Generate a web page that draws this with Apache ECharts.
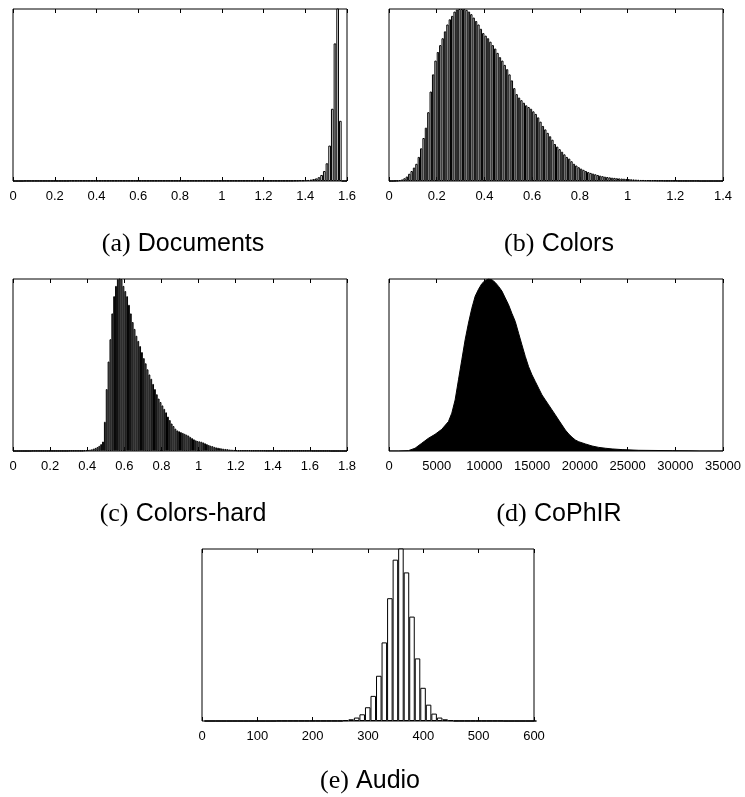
<!DOCTYPE html>
<html><head><meta charset="utf-8">
<script src="https://cdn.jsdelivr.net/npm/echarts@6/dist/echarts.min.js"></script>
<style>html,body{margin:0;padding:0;background:#fff}#c{width:745px;height:797px}</style>
</head><body><div id="c"></div>
<script>
// ---- data (normalised bin heights; 1 = top of plot box) ----
// (a) Documents: bins of width 0.0128 starting at 0
const docStart = 0, docBin = 0.0128;
const docValues = [0,0,0,0,
 0.001,0.001,0.001,0.001,0.001,0.001,0.001,0.001,0.001,0.001,0.001,0.001,0.001,0.001,0.001,0.001,0.001,
 0.002,0.002,0.002,0.002,0.002,0.002,0.002,0.002,0.002,0.002,0.002,0.002,0.002,0.002,0.002,0.002,0.002,0.002,0.002,0.002,
 0.002,0.002,0.002,0.002,0.002,0.002,0.002,0.002,0.002,0.002,0.002,0.002,0.002,0.002,0.002,0.002,0.002,0.002,0.002,0.002,
 0.002,0.002,0.002,0.002,0.002,0.002,0.002,0.002,0.002,0.002,0.002,0.002,0.002,0.002,0.002,0.002,0.002,0.002,0.002,0.002,
 0.002,0.002,0.002,0.002,0.002,0.002,0.002,0.002,0.002,0.002,
 0.002,0.002,0.002,0.002,0.002,0.002,0.002,0.002,0.002,0.002,0.002,0.002,0.002,0.002,
 0.003,0.003,0.004,0.004,0.005,0.006,0.008,0.011,0.015,0.022,0.035,0.058,0.103,0.206,0.42,0.80,1.3,0.35,0,0];
// (b) Colors: bins of width 0.01
const colStart = 0, colBin = 0.01;
const colValues = [0,0,0.001,0.002,0.005,0.009,0.016,0.026,0.042,0.058,
 0.078,0.10,0.14,0.19,0.25,0.31,0.40,0.52,0.62,0.70,
 0.75,0.79,0.83,0.87,0.91,0.94,0.96,0.985,0.997,1.0,
 1.0,1.0,0.995,0.985,0.97,0.95,0.93,0.91,0.885,0.86,
 0.845,0.83,0.81,0.79,0.77,0.745,0.72,0.70,0.675,0.65,
 0.62,0.585,0.54,0.505,0.485,0.47,0.455,0.44,0.43,0.42,
 0.405,0.39,0.37,0.345,0.32,0.30,0.28,0.26,0.24,0.215,
 0.20,0.185,0.17,0.155,0.14,0.13,0.115,0.10,0.09,0.08,
 0.072,0.065,0.058,0.052,0.047,0.043,0.039,0.035,0.031,0.028,
 0.025,0.023,0.021,0.019,0.018,0.016,0.015,0.014,0.013,0.012,
 0.011,0.010,0.009,0.008,0.007,0.006,0.006,0.005,0.005,0.004,
 0.004,0.004,0.003,0.003,0.003,0.002,0.002,0.002,0.002,0.002,
 0.002,0.001,0.001,0.001,0.001,0.001,0.001,0.001,0.001,0.001,
 0,0,0,0,0,0,0,0,0,0];
// (c) Colors-hard: bins of width 0.01
const hardStart = 0, hardBin = 0.01;
const hardValues = [0,0,0,0,0,0,0,0,0,0,
 0.001,0.001,0.001,0.001,0.001,0.001,0.001,0.001,0.001,0.001,
 0.001,0.001,0.001,0.001,0.001,0.001,0.001,0.001,0.001,0.001,
 0.002,0.002,0.002,0.002,0.002,0.002,0.002,0.002,
 0.004,0.005,0.006,0.008,0.010,0.014,0.018,0.023,0.03,0.04,
 0.055,0.17,0.36,0.52,0.65,0.80,0.90,0.96,1.0,1.02,
 1.0,0.96,0.93,0.90,0.85,0.80,0.75,0.71,0.67,0.64,
 0.61,0.575,0.54,0.51,0.475,0.445,0.42,0.39,0.36,0.33,
 0.305,0.285,0.265,0.245,0.225,0.20,0.18,0.16,0.145,0.13,
 0.12,0.115,0.11,0.105,0.10,0.095,0.09,0.082,0.075,0.068,
 0.062,0.058,0.056,0.054,0.05,0.045,0.04,0.035,0.031,0.028,
 0.024,0.021,0.019,0.017,0.015,0.013,0.012,0.011,0.009,0.008,
 0.007,0.006,0.005,0.004,0.004,0.004,0.004,0.004,0.004,0.004,
 0.003,0.003,0.003,0.003,0.003,0.003,0.003,0.003,0.002,0.002,
 0.002,0.002,0.002,0.002,0.002,0.002,0.002,0.002,0.002,0.002,
 0.002,0.002,0.002,0.002,0.002,0.002,0.002,0.002,0.002,0.002,
 0.002,0.002,0.002,0.001,0.001,0.001,0.001,0.001,0.001,0.001,
 0.001,0.001,0.001,0,0,0,0,0,0,0,
 0,0];
// (d) CoPhIR: dense histogram outline (distance, height)
const cophirX = [0,980,2030,2730,3430,4130,4830,5530,6230,6580,6930,7280,7630,7980,8330,8680,9030,9380,9730,10080,10430,10780,11130,11480,11830,12180,12530,12880,13230,13580,13930,14280,14630,14980,15330,15680,16030,16380,16730,17080,17430,17780,18130,18480,18830,19180,19530,19880,20580,21280,21980,22680,23380,24430,26180,29680,31430,32500,35000];
const cophirY = [0,0,0.002,0.016,0.045,0.074,0.097,0.126,0.171,0.22,0.297,0.414,0.53,0.647,0.744,0.83,0.90,0.94,0.973,0.992,1.0,0.996,0.98,0.957,0.93,0.89,0.85,0.80,0.753,0.685,0.617,0.55,0.49,0.443,0.404,0.365,0.326,0.297,0.268,0.239,0.21,0.18,0.151,0.122,0.099,0.08,0.064,0.054,0.041,0.029,0.021,0.016,0.012,0.008,0.004,0.002,0.001,0,0];
// (e) Audio: bins of width 10 starting at 4.5
const audStart = 4.5, audBin = 10;
const audValues = [0,0,0,0,0,0,0,0,0,0,
 0,0,0,0.001,0.001,0.001,0.001,0.001,0.001,0.001,
 0.001,0.001,0.001,0.001,0.001,0.005,0.01,0.02,0.039,0.08,
 0.146,0.263,0.457,0.714,0.938,1.05,0.864,0.607,0.364,0.193,
 0.095,0.043,0.02,0.01,0.005,0.001,0.001,0.001,0.001,0.001,
 0.001,0.001,0.001,0.001,0,0,0,0,0,0];
// axes
const axisMax = [1.6, 1.4, 1.8, 35000, 600];
const axisStep = [0.2, 0.2, 0.2, 5000, 100];
const captionTag = ['(a)', '(b)', '(c)', '(d)', '(e)'];
const captionName = ['Documents', 'Colors', 'Colors-hard', 'CoPhIR', 'Audio'];

// ---- layout ----
const grids = [
  {left: 13, top: 9, width: 334, height: 172},
  {left: 389, top: 9, width: 334, height: 172},
  {left: 13, top: 279, width: 334, height: 172},
  {left: 389, top: 279, width: 334, height: 172},
  {left: 202, top: 549, width: 332, height: 172}
];
const captionPos = [[183, 244], [559, 244], [183, 514], [559, 514], [370, 781]];

function bins(start, w, vals) { return vals.map((v, i) => [start + (i + 0.5) * w, v]); }

const xAxes = [], yAxes = [];
grids.forEach((g, i) => {
  const base = {type: 'value', gridIndex: i, min: 0, max: axisMax[i], interval: axisStep[i],
    splitLine: {show: false}, axisLine: {show: false},
    axisTick: {show: true, inside: true, length: 4, lineStyle: {color: '#000', width: 1}}};
  xAxes.push(Object.assign({}, base, {position: 'bottom',
    axisLabel: {show: true, color: '#000', fontFamily: 'Liberation Sans, Arial, sans-serif', fontSize: 13, margin: 9,
      showMinLabel: true, showMaxLabel: true,
      formatter: function (v) { return String(Math.round(v * 1000) / 1000); }}}));
  xAxes.push(Object.assign({}, base, {position: 'top', axisLabel: {show: false}}));
  yAxes.push({type: 'value', gridIndex: i, min: 0, max: 1, show: false});
});

const barStyle = {color: '#fff', borderColor: '#000', borderWidth: 1};
function barSeries(gi, data) {
  return {type: 'bar', xAxisIndex: gi * 2, yAxisIndex: gi, data: data, barWidth: '100%',
    itemStyle: barStyle, clip: true, silent: true, animation: false};
}
const series = [
  barSeries(0, bins(docStart, docBin, docValues)),
  barSeries(1, bins(colStart, colBin, colValues)),
  barSeries(2, bins(hardStart, hardBin, hardValues)),
  {type: 'line', xAxisIndex: 6, yAxisIndex: 3, data: cophirX.map((x, i) => [x, cophirY[i]]),
   showSymbol: false, symbol: 'none', smooth: false, lineStyle: {color: '#000', width: 1},
   areaStyle: {color: '#000', opacity: 1}, animation: false, silent: true, clip: true},
  barSeries(4, bins(audStart, audBin, audValues))
];

const graphics = captionPos.map((p, i) => ({
  type: 'text', x: p[0], y: p[1],
  style: {text: '{t|' + captionTag[i] + '}{s| }{n|' + captionName[i] + '}', align: 'center', verticalAlign: 'middle',
    rich: {t: {fontFamily: 'Liberation Serif, DejaVu Serif, serif', fontSize: 26, fill: '#000'},
           s: {fontFamily: 'Liberation Sans, Arial, sans-serif', fontSize: 26, fill: '#000'},
           n: {fontFamily: 'Liberation Sans, Arial, sans-serif', fontSize: 25, fill: '#000'}}}
}));

const chart = echarts.init(document.getElementById('c'), null, {renderer: 'canvas'});
chart.setOption({
  animation: false,
  backgroundColor: '#fff',
  grid: grids.map(g => Object.assign({show: true, borderColor: '#000', borderWidth: 1, backgroundColor: 'transparent', containLabel: false}, g)),
  xAxis: xAxes,
  yAxis: yAxes,
  series: series,
  graphic: graphics
});
</script></body></html>
